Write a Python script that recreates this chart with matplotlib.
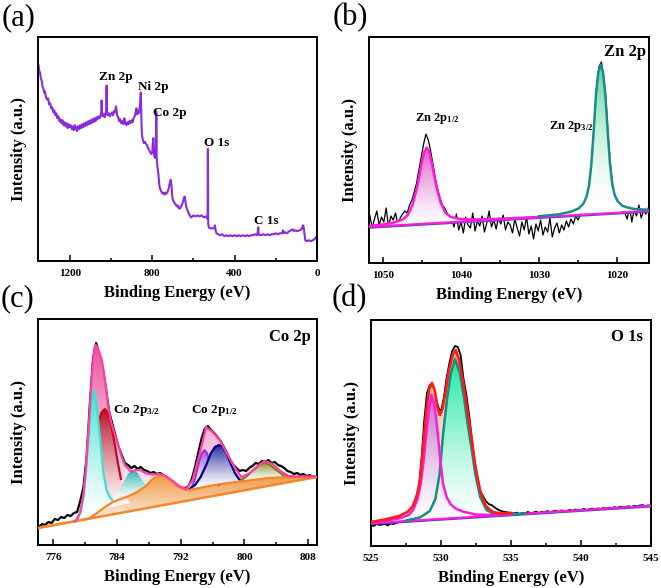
import numpy as np
import matplotlib
matplotlib.use('Agg')
import matplotlib.pyplot as plt
from matplotlib.patches import Polygon
from matplotlib.colors import to_rgb
from matplotlib.ticker import MultipleLocator

plt.rcParams['font.family'] = ['Liberation Serif', 'DejaVu Serif']
plt.rcParams['font.weight'] = 'bold'
plt.rcParams['axes.labelweight'] = 'bold'
plt.rcParams['mathtext.fontset'] = 'custom'
plt.rcParams['mathtext.rm'] = 'Liberation Serif:bold'
plt.rcParams['mathtext.it'] = 'Liberation Serif:bold'
plt.rcParams['mathtext.bf'] = 'Liberation Serif:bold'

# ---------------- (a) survey ----------------
survey_ev = [1352, 1348, 1344, 1340, 1336, 1332, 1328, 1324, 1320, 1315, 1310, 1305, 1300, 1295,
             1290, 1285, 1280, 1275, 1270, 1265, 1260, 1255, 1250, 1245, 1240, 1235, 1230, 1225,
             1220, 1215, 1210, 1205, 1200, 1195, 1190, 1185, 1180, 1175, 1170, 1165, 1160, 1155,
             1150, 1145, 1140, 1135, 1130, 1125, 1120, 1115, 1110, 1105, 1100, 1095, 1090, 1085,
             1080, 1075, 1070, 1065, 1060, 1055, 1050, 1047, 1045, 1043, 1040, 1035, 1030, 1026,
             1023, 1021, 1019, 1015, 1010, 1005, 1000, 995, 990, 985, 980, 976, 973, 970, 965,
             960, 955, 950, 945, 940, 935, 930, 925, 920, 915, 910, 905, 900, 895, 890, 885, 880,
             876, 873, 870, 866, 862, 858, 855, 853, 850, 845, 840, 835, 830, 825, 820, 815, 810,
             805, 800, 797, 794, 790, 786, 783, 781, 780, 778, 775, 770, 765, 760, 755, 750, 745,
             740, 735, 730, 725, 720, 715, 710, 706, 703, 700, 695, 690, 685, 680, 675, 670, 665,
             660, 655, 650, 645, 642, 638, 635, 630, 626, 620, 615, 610, 600, 590, 580, 570, 560,
             550, 540, 533, 531, 529.5, 528, 525, 520, 510, 500, 495, 492, 488, 480, 470, 460, 450,
             440, 430, 420, 410, 400, 390, 380, 370, 360, 350, 340, 330, 320, 310, 300, 290, 285,
             283, 275, 260, 250, 240, 230, 220, 210, 200, 190, 180, 170, 165, 162, 155, 145, 135,
             125, 118, 112, 105, 95, 85, 75, 70, 67, 64, 60, 57, 50, 40, 30, 20, 12, 5, 0]
survey_int = [198, 192, 190, 184, 182, 176, 174, 170, 171, 165, 163, 164, 158, 159,
              154, 155, 150, 152, 147, 149, 144, 146, 141, 143, 139, 142, 137, 140,
              136, 139, 134, 138, 135, 137, 133, 136, 132, 137, 134, 131, 136, 133,
              137, 134, 138, 135, 139, 136, 140, 137, 141, 138, 142, 139, 143, 140,
              144, 141, 145, 143, 146, 144, 147, 150, 162, 150, 146, 148, 145, 149,
              152, 177, 150, 147, 149, 146, 148, 150, 147, 151, 150, 156, 152, 147, 145,
              141, 143, 139, 141, 138, 144, 139, 137, 140, 138, 141, 139, 142, 140, 144, 146, 150,
              154, 148, 151, 149, 152, 160, 170, 150, 128, 122, 119, 120, 118, 117, 114, 112, 110,
              108, 109, 118, 124, 106, 104, 108, 120, 151, 105, 96, 88, 76, 72, 70, 68, 69,
              67, 69, 68, 70, 73, 78, 82, 76, 66, 62, 60, 58, 57, 55, 56, 53, 53,
              55, 57, 60, 64, 65, 59, 55, 52, 50, 47, 45, 44, 46, 45, 46, 45, 46,
              44, 45, 43, 44, 113, 38, 34, 33, 33, 33, 36, 31, 28, 27, 26, 27, 25,
              26, 25, 26, 25, 26, 25, 26, 25, 26, 25, 26, 25, 26, 26, 27, 26, 34,
              27, 26, 27, 26, 27, 26, 27, 27, 28, 27, 28, 28, 31, 28, 29, 28, 30,
              31, 32, 30, 31, 30, 31, 32, 35, 36, 33, 26, 21, 20, 21, 20, 21, 22, 24, 25]
survey_labels = ['Zn 2p', 'Ni 2p', 'Co 2p', 'O 1s', 'C 1s']

# ---------------- (b) Zn 2p ----------------
zn_raw = [40, 48, 35, 44, 52, 38, 46, 41, 55, 36, 47, 43, 50, 39, 45, 49,
          52, 50, 58, 63, 71, 80, 93, 106, 119, 129, 123, 112, 99, 85, 74, 65, 58, 55, 50, 47,
          44, 36, 49, 33, 41, 30, 46, 38, 35, 50, 32, 42, 37, 47, 31, 40, 52, 36, 43, 34, 45, 39, 48, 33, 41,
          38, 30, 44, 35, 27, 41, 33, 46, 29, 37, 24, 39, 32, 43, 28, 36, 31, 45, 26, 35, 40, 30, 38, 33, 42,
          36, 44, 39, 47, 43,
          48, 52, 50, 56, 60,
          108, 142, 178, 197, 201, 186, 162, 124, 94, 74, 64, 58, 54, 52, 50,
          44, 56, 41, 53, 47, 58, 45, 52, 49, 55]
zn_raw_range = (1052, 1016)
zn_base_x = [1052, 1016]
zn_base_y = [36, 52]
zn12_x = [1052, 1050, 1048.5, 1047.4, 1046.8, 1046.2, 1045.6, 1045.3, 1045.0, 1044.7, 1044.4, 1044.1,
          1043.8, 1043.5, 1043.2, 1042.6, 1042.0, 1041.4, 1040.3, 1038.8, 1036.8, 1034, 1030]
zn12_y = [36.9, 38.6, 40.6, 43.8, 48.3, 58.5, 76.9, 89.2, 101.5, 111.5, 115.4, 111.7,
          102, 90, 77.9, 60, 50.3, 46.4, 44.2, 43.5, 43.7, 44.5, 46.1]
zn32_x = [1030, 1027.5, 1025.9, 1024.9, 1024.3, 1023.9, 1023.6, 1023.3, 1023.0, 1022.7, 1022.4, 1022.1,
          1021.8, 1021.5, 1021.2, 1020.9, 1020.6, 1020.3, 1019.9, 1019.3, 1018.5, 1017.6, 1016]
zn32_y = [46.7, 48.7, 51.3, 54.7, 59.5, 66.4, 76.9, 97.9, 130.9, 168.2, 190.7, 198.3,
          191, 168.7, 131.6, 99, 78.2, 68, 61.4, 57.2, 55, 53.9, 53.2]

# ---------------- (c) Co 2p ----------------
co_raw = [18, 21, 20, 23, 22, 26, 25, 28, 27, 30, 29, 32, 33, 44, 58, 88, 140, 186, 202, 190,
          178, 158, 134, 122, 110, 98, 90, 82, 80, 77, 79, 76, 78, 75, 74, 72, 73, 71, 72, 70,
          68, 66, 63, 60, 58, 57, 57, 59, 66, 78, 92, 106, 116, 119, 115, 112, 108, 104, 98, 92,
          85, 80, 77, 74, 75, 74, 77, 79, 82, 81, 84, 83, 85, 82, 83, 80, 79, 77, 74, 73,
          71, 72, 70, 71, 69, 70, 68, 69]
co_raw_range = (774.2, 809.0)
co_base_x = [774.1, 809.1]
co_base_y = [17, 68]
co_sat_x = [774.1, 777, 779, 780.5, 781.5, 782.5, 783.5, 784.5, 785.5, 786.5, 787.5, 788.5, 789.3,
            790, 791, 791.5, 792.2, 793, 794, 795.6, 797, 799, 801, 803, 805, 807, 809.1]
co_sat_y = [17, 21.3, 24.2, 26.5, 32, 38, 43, 46, 49, 53, 58, 66, 70,
            69, 63, 59, 56, 55, 56.5, 59, 61, 63, 65, 67, 67.8, 68, 68.3]
co_cy_x = [778.75, 779.1, 779.4, 779.8, 780.1, 780.4, 780.7, 781.0, 781.2, 781.5, 781.9, 782.3,
           782.7, 783.1, 783.4]
co_cy_y = [23.5, 27, 32, 48, 72, 105, 138, 155, 152, 138, 105, 72, 55, 48, 45]
co_rd_x = [780.0, 780.5, 781.0, 781.4, 781.8, 782.1, 782.5, 782.9, 783.3, 783.7, 784.1, 784.5,
           784.9, 785.3, 785.7]
co_rd_y = [32, 52, 82, 108, 126, 133, 136, 132, 120, 102, 83, 66, 54, 46, 42]
co_tl_x = [783.2, 783.8, 784.4, 784.9, 785.4, 785.8, 786.1, 786.5, 786.9, 787.3, 787.8]
co_tl_y = [44.5, 49, 56, 64, 71, 74.5, 75.3, 73, 68, 63, 59]
co_pu_x = [793.3, 793.8, 794.2, 794.6, 795.0, 795.3, 795.7, 796.2, 796.8]
co_pu_y = [56, 66, 80, 91, 95, 92, 81, 67, 60]
co_bl_x = [793.1, 793.8, 794.5, 795.2, 795.8, 796.3, 796.8, 797.3, 797.8, 798.3, 798.8, 799.3, 799.8]
co_bl_y = [56, 60, 68, 80, 92, 98, 100, 98, 91, 81, 72, 66, 64]
co_ol_x = [799.4, 800.2, 801.0, 801.8, 802.5, 803.2, 804.0, 804.8, 805.6]
co_ol_y = [64, 68, 74, 80, 82.5, 80, 75, 70, 67.8]
co_env_x = [778.75, 779.1, 779.4, 779.8, 780.1, 780.4, 780.7, 780.95, 781.15, 781.35, 781.7, 782.1,
            782.5, 782.9, 783.3, 783.95, 784.6, 785.0, 785.8, 786.4, 786.9, 787.7, 788.5, 789.3,
            790.0, 791.0, 791.8, 792.7, 793.5, 794.4, 795.2, 796.0, 796.9, 797.7, 798.75, 799.6,
            800.5, 801.5, 802.5, 803.5, 804.5, 805.5, 806.5, 809.1]
co_env_y = [23.5, 27.5, 33, 50, 75, 110, 150, 180, 196, 200, 195, 185,
            165, 138, 122, 105, 88, 80, 73, 75, 75, 71.5, 70.5, 71,
            69.5, 64, 59, 56, 65, 92, 118, 113, 105, 93, 78, 68,
            71, 78, 84, 81, 74, 69, 68.5, 68.5]

# ---------------- (d) O 1s ----------------
o_raw = [21, 20, 22, 21, 21.5, 22, 20.5, 22.5, 22, 23, 24, 25, 26.5, 28, 30, 34, 42, 56, 85, 125,
         153, 161, 160, 150, 139, 134, 148, 168, 183, 195, 200, 199, 191, 168, 152, 132, 108, 85, 68, 55,
         50, 45, 42, 41, 39, 37, 35.5, 34.5, 34, 33.5, 33,
         32.5, 33.4, 31.9, 33.0, 32.6, 34.1, 32.8, 33.5, 34.4, 32.9,
         34.2, 33.6, 35.0, 33.9, 34.6, 35.3, 33.8, 35.6, 34.9, 35.2,
         36.1, 35.0, 36.5, 35.7, 36.0, 37.2, 35.9, 36.8, 37.4, 36.3,
         37.6, 37.0, 38.1, 37.3, 38.4, 37.8, 38.9, 38.0, 39.3, 38.5,
         39.1, 39.8, 38.9, 40.3, 39.6, 40.5, 40.9, 39.8, 40.6, 40.2]
o_raw_range = (525, 545)
o_base_x = [525, 545]
o_base_y = [22.7, 40.3]
o_m_x = [525.0, 526.0, 527.05, 527.7, 528.0, 528.3, 528.55, 528.75, 528.95, 529.15, 529.32, 529.5,
         529.65, 529.8, 529.95, 530.15, 530.4, 530.7, 531.1, 531.6, 532.5, 533.7, 535.0]
o_m_y = [23.5, 25.2, 27.7, 31, 36, 46, 62, 84, 112, 137, 151, 142,
         128, 108, 86, 62, 49, 41.5, 37, 34.3, 31.5, 31, 31.8]
o_t_x = [527.5, 528.5, 529.2, 529.6, 529.9, 530.15, 530.45, 530.7, 531.0, 531.35, 531.65, 531.9,
         532.2, 532.45, 532.8, 533.25, 533.8, 534.5, 536.0]
o_t_y = [25.5, 28.5, 35, 47, 72, 112, 149, 172, 187, 173, 148, 122, 96, 72, 49, 36, 32, 31.5, 32.6]
o_env_x = [525.0, 526.0, 527.0, 527.6, 528.0, 528.3, 528.5, 528.7, 528.95, 529.15, 529.35, 529.55,
           529.75, 529.92, 530.1, 530.3, 530.55, 530.85, 531.05, 531.3, 531.6, 531.9, 532.2, 532.45,
           532.8, 533.2, 533.7, 534.3, 535.0]
o_env_y = [24, 26.5, 30, 34, 40, 52, 66, 96, 135, 157, 163, 156,
           138, 131, 137, 152, 175, 192, 196, 186, 162, 134, 106, 80,
           55, 40, 34, 32.5, 33]

W, H = 661, 588
fig = plt.figure(figsize=(W / 100, H / 100), dpi=100)


def box(l, t, r, b):
    return [l / W, 1 - b / H, (r - l) / W, (b - t) / H]


def put(x, y, s, **kw):
    fig.text(x / W, 1 - y / H, s, ha='center', va='center', **kw)


def grad_fill(ax, xs, ys, color, z, power=1.3):
    # white at the bottom of the shape, full colour at its top
    poly = Polygon(np.column_stack([xs, ys]), closed=True, fc='none', ec='none')
    ax.add_patch(poly)
    t = np.linspace(0, 1, 256)[:, None, None] ** power
    c = np.array(to_rgb(color))[None, None, :]
    img = 1 - t * (1 - c)
    im = ax.imshow(img, extent=[min(xs), max(xs), min(ys), max(ys)], origin='lower',
                   aspect='auto', zorder=z, interpolation='bilinear')
    im.set_clip_path(poly)


def style(ax, xlim, major, minor):
    ax.set_xlim(*xlim)
    ax.set_ylim(0, 226)
    ax.set_yticks([])
    ax.xaxis.set_major_locator(MultipleLocator(major))
    ax.xaxis.set_minor_locator(MultipleLocator(minor))
    ax.tick_params(axis='x', which='both', direction='in', labelsize=8, pad=6, width=1.1)
    ax.tick_params(axis='x', which='major', length=4)
    ax.tick_params(axis='x', which='minor', length=2)
    for s in ax.spines.values():
        s.set_linewidth(1.4)
    ax.set_xlabel('Binding Energy (eV)', fontsize=12, labelpad=4.5)
    ax.set_ylabel('Intensity (a.u.)', fontsize=12, labelpad=8)


# (a)
ax1 = fig.add_axes(box(38, 37, 317, 261))
ax1.plot(survey_ev, survey_int, color='#8a2be2', lw=1.5)
style(ax1, (1354, 0), 400, 200)
for lab, (px, py) in zip(survey_labels, [(116, 77), (153, 87), (170, 113), (217, 143), (266, 221)]):
    put(px, py, lab, fontsize=9.5)

# (b)
ax2 = fig.add_axes(box(369, 37, 649, 263))
ax2.plot(np.linspace(*zn_raw_range, len(zn_raw)), zn_raw, color='black', lw=0.9, zorder=1)
grad_fill(ax2, zn12_x, zn12_y, '#e05cc6', 2)
grad_fill(ax2, zn32_x, zn32_y, '#58d49a', 2, power=1.8)
ax2.plot(zn_base_x, np.array(zn_base_y) - 1, color='#3050d0', lw=1.2, zorder=3)
ax2.plot(zn_base_x, zn_base_y, color='#ff1ad9', lw=1.6, zorder=3)
ax2.plot(zn12_x, zn12_y, color='#ff1ad9', lw=1.8, zorder=4)
ax2.plot(zn32_x, zn32_y, color='#1b8c8c', lw=1.8, zorder=4)
style(ax2, (1051.8, 1015.9), 10, 5)
put(625, 52, 'Zn 2p', fontsize=12)
put(437, 119, 'Zn 2p$_{1/2}$', fontsize=9)
put(571, 126, 'Zn 2p$_{3/2}$', fontsize=9)

# (c)
ax3 = fig.add_axes(box(38, 319, 317, 545))
ax3.plot(np.linspace(*co_raw_range, len(co_raw)), co_raw, color='black', lw=1.6, zorder=1)
grad_fill(ax3, co_env_x + co_base_x[::-1], co_env_y + co_base_y[::-1], '#e8559b', 2)
grad_fill(ax3, co_sat_x, co_sat_y, '#f09a48', 3, power=1.0)
grad_fill(ax3, co_rd_x, co_rd_y, '#b8102a', 4)
ax3.plot(co_rd_x[:12], co_rd_y[:12], color='#d0021b', lw=1.6, zorder=5)
grad_fill(ax3, co_cy_x, co_cy_y, '#40e0d0', 6)
ax3.plot(co_cy_x, co_cy_y, color='#40e0d0', lw=1.6, zorder=7)
grad_fill(ax3, co_tl_x, co_tl_y, '#20b2aa', 6)
grad_fill(ax3, co_pu_x, co_pu_y, '#9b59d0', 6)
ax3.plot(co_pu_x, co_pu_y, color='#9b30d0', lw=1.4, zorder=7)
grad_fill(ax3, co_bl_x, co_bl_y, '#2a2aa0', 8)
ax3.plot(co_bl_x, co_bl_y, color='#00008b', lw=1.6, zorder=9)
grad_fill(ax3, co_ol_x, co_ol_y, '#8b8b2a', 8)
ax3.plot(co_ol_x, co_ol_y, color='#808000', lw=1.4, zorder=9)
ax3.plot(co_sat_x, co_sat_y, color='#f5862a', lw=1.6, zorder=9)
ax3.plot(co_base_x, co_base_y, color='#f5862a', lw=1.8, zorder=9)
ax3.plot(co_env_x, co_env_y, color='#ff3ea5', lw=1.6, zorder=10)
style(ax3, (774.1, 809.1), 8, 4)
put(290, 337, 'Co 2p', fontsize=12)
put(137, 411, 'Co 2p$_{3/2}$', fontsize=9.5)
put(215, 411, 'Co 2p$_{1/2}$', fontsize=9.5)

# (d)
ax4 = fig.add_axes(box(371, 320, 651, 546))
ax4.plot(np.linspace(*o_raw_range, len(o_raw)), o_raw, color='black', lw=1.3, zorder=1)
grad_fill(ax4, o_env_x, o_env_y, '#f5a878', 2)
grad_fill(ax4, o_t_x, o_t_y, '#1de9a0', 3)
grad_fill(ax4, o_m_x, o_m_y, '#c070c8', 3)
ax4.plot(o_base_x, np.array(o_base_y) - 1, color='#3050d0', lw=1.2, zorder=4)
ax4.plot(o_base_x, o_base_y, color='#ff1ad9', lw=1.6, zorder=4)
ax4.plot(o_t_x, o_t_y, color='#178c80', lw=1.8, zorder=5)
ax4.plot(o_m_x, o_m_y, color='#ff1ad9', lw=1.8, zorder=5)
ax4.plot(o_env_x, o_env_y, color='#ff1a1a', lw=1.9, zorder=6)
style(ax4, (525, 545), 5, 2.5)
put(627, 337, 'O 1s', fontsize=12)

for lab, (px, py) in zip(['(a)', '(b)', '(c)', '(d)'], [(19, 18), (350, 18), (18, 299), (349, 299)]):
    put(px, py, lab, fontsize=22, fontweight='normal')

fig.savefig('out.png', dpi=100)
